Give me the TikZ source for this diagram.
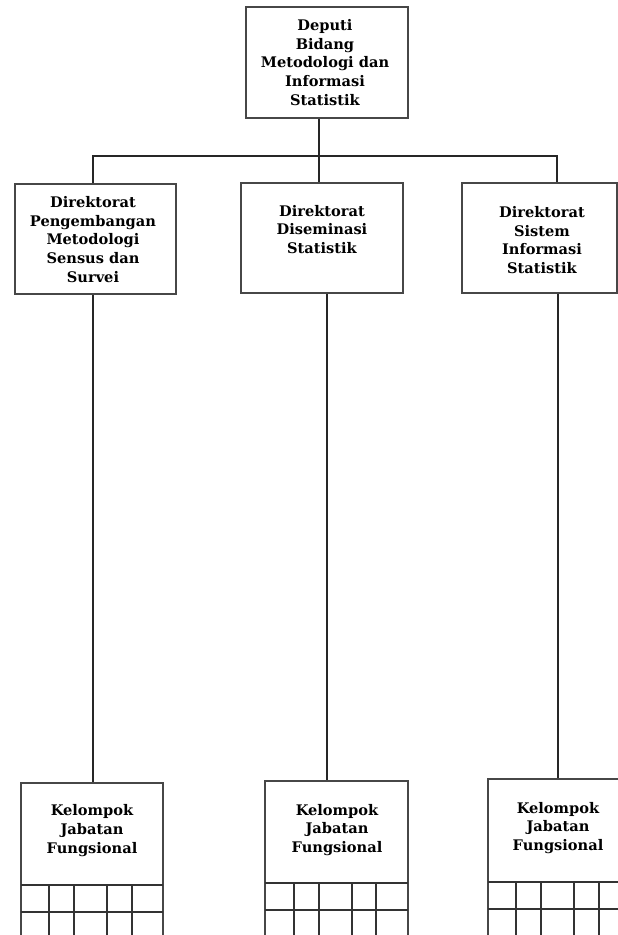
\documentclass[tikz,border=0pt]{standalone}
\usepackage{fontspec}
\setmainfont{DejaVu Serif}
\begin{document}
\begin{tikzpicture}[x=1pt,y=-1pt,
  box/.style={draw=black!72,line width=1.3pt,rectangle,inner sep=0pt},
  lbl/.style={align=center,font=\fontsize{14.6}{18.7}\selectfont\bfseries,inner sep=0pt},
  conn/.style={draw=black!85,line width=2pt},
  gridl/.style={draw=black!80,line width=1.2pt}]
\useasboundingbox (0,0) rectangle (618,935);
\clip (0,0) rectangle (618,935);
% boxes
\node[box,minimum width=162pt,minimum height=111pt] (top) at (327,62.5) {};
\node[box,minimum width=161pt,minimum height=110pt] (d1) at (95.5,239) {};
\node[box,minimum width=162pt,minimum height=110pt] (d2) at (322,238) {};
\node[box,minimum width=155pt,minimum height=110pt] (d3) at (539.5,238) {};
\node[box,minimum width=142pt,minimum height=170pt] (k1) at (92,868) {};
\node[box,minimum width=143pt,minimum height=172pt] (k2) at (336.5,867) {};
\node[box,minimum width=142pt,minimum height=174pt] (k3) at (559,866) {};
% texts
\node[lbl] (ttop) at (325,62.5) {Deputi\\Bidang\\Metodologi dan\\Informasi\\Statistik};
\node[lbl] (td1) at (93,239.5) {Direktorat\\Pengembangan\\Metodologi\\Sensus dan\\Survei};
\node[lbl] (td2) at (322,229.5) {Direktorat\\Diseminasi\\Statistik};
\node[lbl] (td3) at (542,240) {Direktorat\\Sistem\\Informasi\\Statistik};
\node[lbl] (tk1) at (92,830.5) {Kelompok\\Jabatan\\Fungsional};
\node[lbl] (tk2) at (337,830) {Kelompok\\Jabatan\\Fungsional};
\node[lbl] (tk3) at (558,828) {Kelompok\\Jabatan\\Fungsional};
% connectors
\coordinate (j1) at (93,156);
\coordinate (j2) at (319,156);
\coordinate (j3) at (557,156);
\coordinate (c1) at (92.5,0);
\coordinate (c2) at (327,0);
\coordinate (c3) at (558,0);
\draw[conn] (top.south -| j2) -- (d2.north -| j2);
\draw[conn] (d1.north -| j1) -- (j1) -- (j3) -- (d3.north -| j3);
\draw[conn] (d1.south -| c1) -- (k1.north -| c1);
\draw[conn] (d2.south -| c2) -- (k2.north -| c2);
\draw[conn] (d3.south -| c3) -- (k3.north -| c3);
% grids
\draw[gridl] (21,885) -- (163,885) (21,912) -- (163,912)
  (49,885) -- (49,940) (74,885) -- (74,940) (107,885) -- (107,940) (132,885) -- (132,940);
\draw[gridl] (265,883) -- (408,883) (265,910) -- (408,910)
  (294,883) -- (294,940) (319,883) -- (319,940) (352,883) -- (352,940) (376,883) -- (376,940);
\draw[gridl] (488,882) -- (630,882) (488,909) -- (630,909)
  (516,882) -- (516,940) (541,882) -- (541,940) (574,882) -- (574,940) (599,882) -- (599,940);
\end{tikzpicture}
\end{document}
